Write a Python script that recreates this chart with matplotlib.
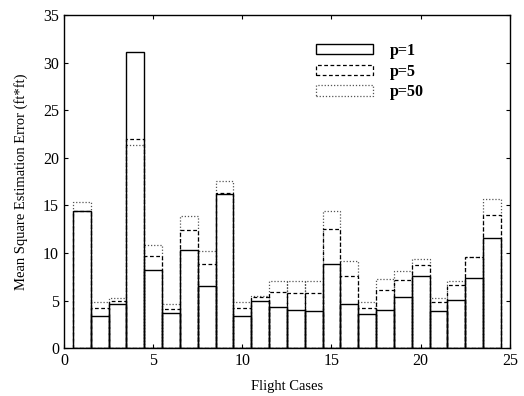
import matplotlib
matplotlib.use("Agg")
import matplotlib.pyplot as plt
from matplotlib.patches import Patch
import numpy as np

cases = list(range(1, 25))
p1 = [14.4, 3.4, 4.6, 31.1, 8.2, 3.7, 10.3, 6.5, 16.2, 3.4, 5.0, 4.3,
      4.0, 3.9, 8.8, 4.6, 3.6, 4.0, 5.4, 7.6, 3.9, 5.1, 7.4, 11.6]
p5 = [14.4, 4.2, 4.9, 22.0, 9.7, 4.1, 12.4, 8.8, 16.3, 4.2, 5.4, 5.9,
      5.8, 5.8, 12.5, 7.6, 4.2, 6.1, 7.2, 8.7, 4.8, 6.6, 9.6, 14.0]
p50 = [15.4, 4.8, 5.3, 21.3, 10.8, 4.6, 13.9, 10.2, 17.6, 4.8, 5.5, 7.0,
       7.0, 7.0, 14.4, 9.1, 4.8, 7.3, 8.1, 9.4, 5.3, 7.0, 9.6, 15.7]
labels = ["p=1", "p=5", "p=50"]

plt.rcParams['font.family'] = ['Liberation Serif', 'DejaVu Serif']

fig = plt.figure(figsize=(5.24, 3.96), dpi=100)
ax = fig.add_axes([0.122, 0.121, 0.851, 0.841])

dash = (0, (3, 2))
dot = (0, (1, 1.5))
ax.bar(cases, p50, width=1.0, fill=False, edgecolor='#555555', linestyle=dot, linewidth=0.9)
ax.bar(cases, p5, width=1.0, fill=False, edgecolor='black', linestyle=dash, linewidth=0.9)
ax.bar(cases, p1, width=1.0, fill=False, edgecolor='black', linestyle='-', linewidth=1.0)

ax.set_xlim(0, 25)
ax.set_ylim(0, 35)
ax.set_xticks(np.arange(0, 26, 5))
ax.set_yticks(np.arange(0, 36, 5))
ax.tick_params(direction='in', top=True, right=True, labelsize=11.5, length=3)
for s in ax.spines.values():
    s.set_linewidth(1.0)

ax.set_xlabel("Flight Cases", fontsize=10.5, labelpad=8)
ax.set_ylabel("Mean Square Estimation Error (ft*ft)", fontsize=10.5, labelpad=11)

handles = [Patch(fill=False, edgecolor='black', linestyle='-', linewidth=1.0),
           Patch(fill=False, edgecolor='black', linestyle=dash, linewidth=0.9),
           Patch(fill=False, edgecolor='#555555', linestyle=dot, linewidth=0.9)]
leg = ax.legend(handles, labels, loc='upper left', bbox_to_anchor=(0.532, 0.96),
                frameon=False, handlelength=3.6, handleheight=0.65,
                labelspacing=0.3, handletextpad=1.05,
                prop={'size': 11.5, 'weight': 'bold'})

fig.savefig("out.png", dpi=100)
